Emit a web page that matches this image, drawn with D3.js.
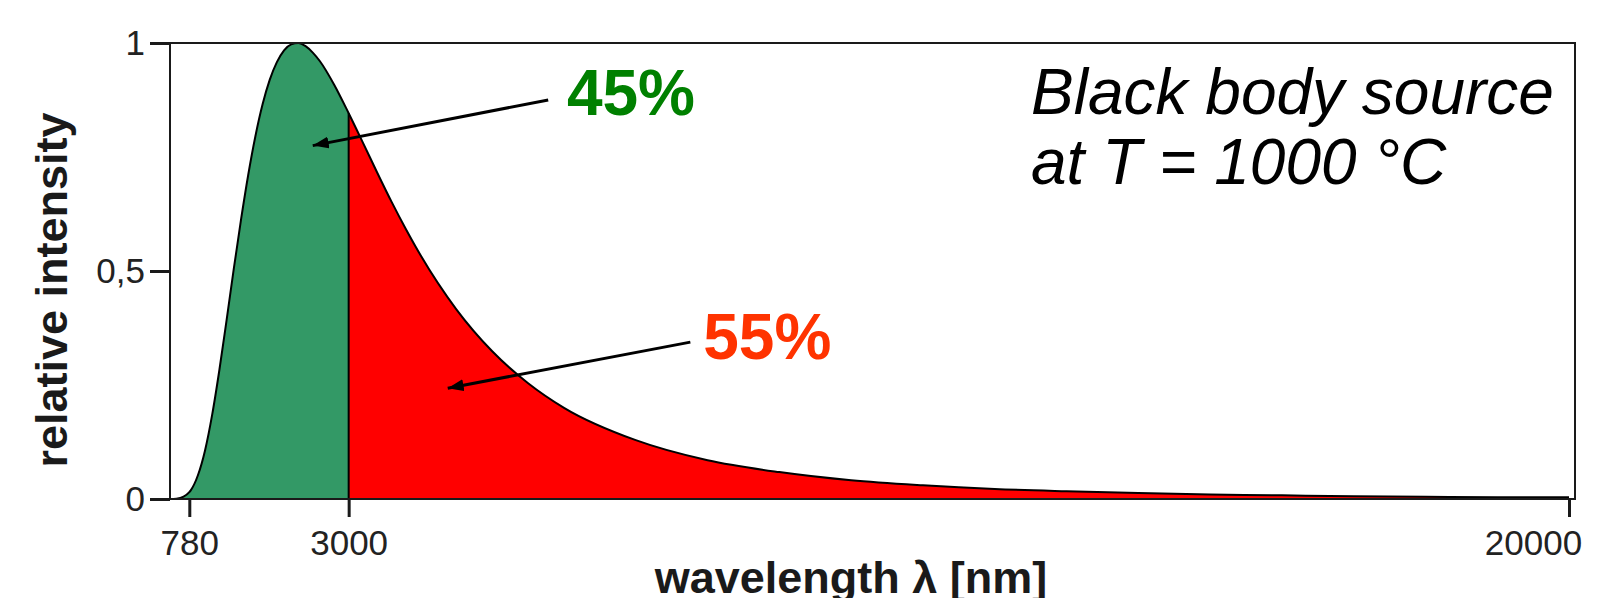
<!DOCTYPE html>
<html>
<head>
<meta charset="utf-8">
<script src="https://cdn.jsdelivr.net/npm/d3@7"></script>
<style>
  html, body { margin: 0; padding: 0; background: #fff; }
  svg { display: block; font-family: "Liberation Sans", Arial, sans-serif; }
</style>
</head>
<body>
<svg id="chart" width="1622" height="598"></svg>
<script>
// wavelength in nm
const wavelength = [500, 600, 700, 780, 800, 900, 1000, 1100, 1200, 1300, 1400, 1500, 1600, 1700,
  1800, 1900, 2000, 2100, 2200, 2300, 2400, 2500, 2600, 2800, 3000, 3200, 3400, 3600, 3800, 4000,
  4500, 5000, 5500, 6000, 7000, 8000, 9000, 10000, 11000, 12000, 13000, 14000, 15000, 16000,
  17000, 18000, 19000, 20000];
// relative intensity (peak = 1)
const intensity = [0.0000, 0.0007, 0.005, 0.015, 0.019, 0.052, 0.107, 0.186, 0.284, 0.393, 0.505, 0.612, 0.710, 0.795,
  0.865, 0.919, 0.958, 0.984, 0.997, 1.000, 0.993, 0.979, 0.960, 0.908, 0.846, 0.781, 0.715, 0.651, 0.591, 0.535,
  0.416, 0.324, 0.254, 0.200, 0.129, 0.085, 0.059, 0.041, 0.030, 0.022, 0.017, 0.013, 0.010, 0.008,
  0.006, 0.005, 0.004, 0.0036];

const xTicks = [780, 3000, 20000];
const yTicks = [0, 0.5, 1];
const yTickLabels = ["0", "0,5", "1"];
const splitAt = 3000; // boundary between the two shaded parts
const shares = ["45%", "55%"];

const data = wavelength.map((w, i) => ({ w: w, v: intensity[i] }));

const svg = d3.select("#chart");
const box = { left: 170, right: 1575, top: 43, bottom: 499 };

const x = d3.scaleLinear().domain([780, 20000]).range([189.3, 1569]);
const y = d3.scaleLinear().domain([0, 1]).range([box.bottom, box.top]);

const area = d3.area()
  .x(d => x(d.w))
  .y0(y(0))
  .y1(d => y(d.v))
  .curve(d3.curveMonotoneX);
const line = d3.line()
  .x(d => x(d.w))
  .y(d => y(d.v))
  .curve(d3.curveMonotoneX);

const defs = svg.append("defs");
defs.append("clipPath").attr("id", "leftPart")
  .append("rect")
    .attr("x", 0).attr("y", 0)
    .attr("width", x(splitAt)).attr("height", 598);

defs.append("marker")
    .attr("id", "head")
    .attr("markerUnits", "userSpaceOnUse")
    .attr("viewBox", "0 0 16 12")
    .attr("refX", 16).attr("refY", 6)
    .attr("markerWidth", 16).attr("markerHeight", 12)
    .attr("orient", "auto")
  .append("path")
    .attr("d", "M0,0 L16,6 L0,12 Z")
    .attr("fill", "#000");

// red for the whole curve, green over the part below 3000 nm
svg.append("path").datum(data)
  .attr("d", area)
  .attr("fill", "#ff0000");
svg.append("path").datum(data)
  .attr("d", area)
  .attr("fill", "#339966")
  .attr("clip-path", "url(#leftPart)");

// divider at 3000 nm
const vSplit = intensity[wavelength.indexOf(splitAt)];
svg.append("line")
  .attr("x1", x(splitAt)).attr("x2", x(splitAt))
  .attr("y1", y(0)).attr("y2", y(vSplit))
  .attr("stroke", "#000").attr("stroke-width", 2);

svg.append("path").datum(data)
  .attr("d", line)
  .attr("fill", "none")
  .attr("stroke", "#000")
  .attr("stroke-width", 2);

// frame
svg.append("rect")
  .attr("x", box.left).attr("y", box.top)
  .attr("width", box.right - box.left).attr("height", box.bottom - box.top)
  .attr("fill", "none")
  .attr("stroke", "#1a1a1a")
  .attr("stroke-width", 2);

// axes
const xAxis = svg.append("g")
  .attr("transform", `translate(0,${box.bottom})`)
  .call(d3.axisBottom(x).tickValues(xTicks).tickFormat(d3.format("d")).tickSize(18).tickPadding(13));
const yAxis = svg.append("g")
  .attr("transform", `translate(${box.left},0)`)
  .call(d3.axisLeft(y).tickValues(yTicks).tickFormat((d, i) => yTickLabels[i]).tickSize(20).tickPadding(5));

[xAxis, yAxis].forEach(a => {
  a.select(".domain").remove();
  a.selectAll(".tick line").attr("stroke", "#1a1a1a").attr("stroke-width", 3);
  a.selectAll(".tick text")
    .attr("fill", "#222")
    .style("font-size", "35px")
    .style("font-family", "'Liberation Sans', Arial, sans-serif");
});
// last label sits pulled in, as in the original
xAxis.selectAll(".tick text").filter(d => d === 20000).attr("dx", -36);

// axis titles
svg.append("text")
  .attr("transform", "translate(67,290) rotate(-90)")
  .attr("text-anchor", "middle")
  .attr("fill", "#1a1a1a")
  .style("font-size", "45px")
  .style("font-weight", "bold")
  .text("relative intensity");

svg.append("text")
  .attr("x", 851).attr("y", 593)
  .attr("text-anchor", "middle")
  .attr("fill", "#1a1a1a")
  .style("font-size", "45px")
  .style("font-weight", "bold")
  .text("wavelength λ [nm]");

// annotation arrows (data units)
const arrows = [
  { from: [5780, 0.875], to: [2500, 0.775] },
  { from: [7760, 0.344], to: [4380, 0.243] }
];
svg.selectAll(".arrow")
  .data(arrows)
  .join("line")
    .attr("class", "arrow")
    .attr("x1", d => x(d.from[0])).attr("y1", d => y(d.from[1]))
    .attr("x2", d => x(d.to[0])).attr("y2", d => y(d.to[1]))
    .attr("stroke", "#000")
    .attr("stroke-width", 3)
    .attr("marker-end", "url(#head)");

const labels = [
  { text: shares[0], w: 6040, v: 0.842, color: "#008000" },
  { text: shares[1], w: 7940, v: 0.307, color: "#ff3300" }
];
svg.selectAll(".share")
  .data(labels)
  .join("text")
    .attr("class", "share")
    .attr("x", d => x(d.w)).attr("y", d => y(d.v))
    .attr("fill", d => d.color)
    .style("font-size", "64px")
    .style("font-weight", "bold")
    .text(d => d.text);

// caption
const caption = svg.append("text")
  .attr("x", 1031).attr("y", 114)
  .attr("fill", "#000")
  .style("font-size", "64px")
  .style("font-style", "italic");
caption.append("tspan").attr("x", 1031).text("Black body source");
caption.append("tspan").attr("x", 1031).attr("dy", 70).text("at T = 1000 °C");
</script>
</body>
</html>
